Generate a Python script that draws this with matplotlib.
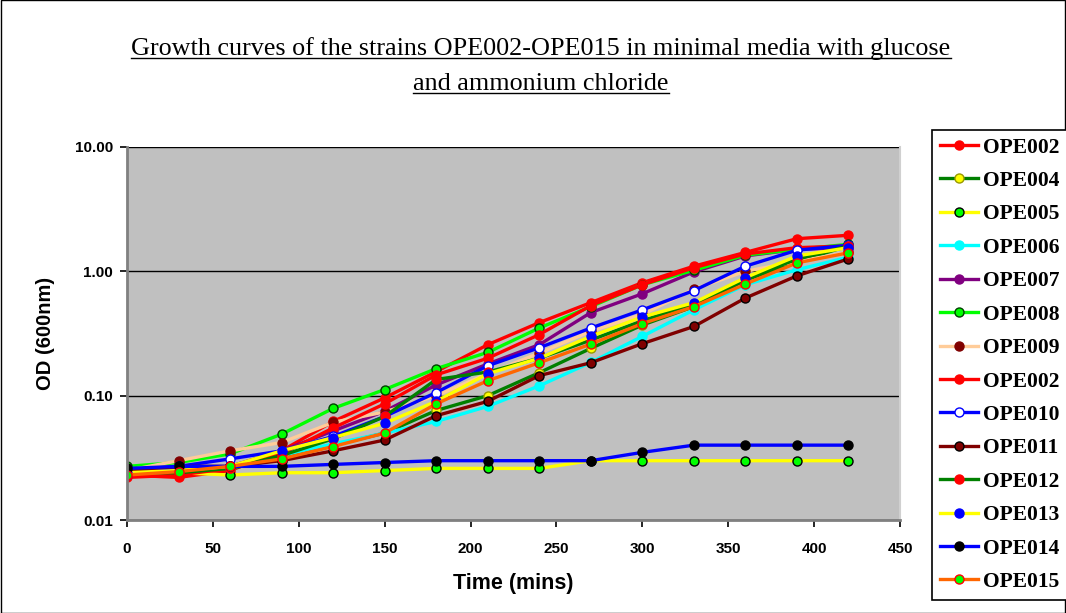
import matplotlib
matplotlib.use("Agg")
import matplotlib.pyplot as plt
from matplotlib.lines import Line2D
from matplotlib.patches import Rectangle
from matplotlib.ticker import FixedLocator, NullLocator, FixedFormatter

# ---------------- data ----------------
time_mins = [0, 30, 60, 90, 120, 150, 180, 210, 240, 270, 300, 330, 360, 390, 420]

labels = ["OPE002", "OPE004", "OPE005", "OPE006", "OPE007", "OPE008", "OPE009",
          "OPE002", "OPE010", "OPE011", "OPE012", "OPE013", "OPE014", "OPE015"]

ope002_a = [0.023, 0.022, 0.025, 0.036, 0.062, 0.096, 0.156, 0.257, 0.387, 0.56, 0.81, 1.10, 1.42, 1.83, 1.95]
ope004 = [0.025, 0.026, 0.026, 0.031, 0.040, 0.050, 0.076, 0.100, 0.153, 0.240, 0.370, 0.520, 0.85, 1.20, 1.60]
ope005 = [0.024, 0.024, 0.023, 0.024, 0.024, 0.025, 0.026, 0.026, 0.026, 0.030, 0.030, 0.030, 0.030, 0.030, 0.030]
ope006 = [0.024, 0.025, 0.026, 0.033, 0.041, 0.050, 0.062, 0.082, 0.120, 0.185, 0.300, 0.490, 0.78, 1.03, 1.30]
ope007 = [0.024, 0.025, 0.027, 0.036, 0.052, 0.075, 0.122, 0.180, 0.257, 0.466, 0.660, 0.990, 1.33, 1.50, 1.55]
ope008 = [0.027, 0.029, 0.034, 0.049, 0.079, 0.112, 0.165, 0.223, 0.350, 0.520, 0.780, 1.020, 1.35, 1.50, 1.65]
ope009 = [0.025, 0.030, 0.036, 0.042, 0.061, 0.074, 0.100, 0.150, 0.220, 0.330, 0.450, 0.720, 1.00, 1.20, 1.42]
ope002_b = [0.022, 0.023, 0.026, 0.034, 0.055, 0.086, 0.147, 0.200, 0.310, 0.530, 0.780, 1.070, 1.38, 1.55, 1.60]
ope010 = [0.023, 0.027, 0.031, 0.036, 0.047, 0.068, 0.106, 0.174, 0.243, 0.350, 0.490, 0.700, 1.10, 1.48, 1.62]
ope011 = [0.025, 0.027, 0.027, 0.030, 0.036, 0.044, 0.069, 0.090, 0.145, 0.184, 0.262, 0.360, 0.61, 0.92, 1.26]
ope012 = [0.024, 0.024, 0.026, 0.033, 0.045, 0.068, 0.135, 0.155, 0.200, 0.280, 0.400, 0.550, 0.88, 1.25, 1.60]
ope013 = [0.024, 0.025, 0.027, 0.036, 0.046, 0.060, 0.090, 0.150, 0.200, 0.300, 0.430, 0.560, 0.89, 1.33, 1.55]
ope014 = [0.026, 0.027, 0.027, 0.027, 0.028, 0.029, 0.030, 0.030, 0.030, 0.030, 0.035, 0.040, 0.040, 0.040, 0.040]
ope015 = [0.023, 0.0245, 0.027, 0.031, 0.039, 0.050, 0.086, 0.132, 0.184, 0.260, 0.380, 0.520, 0.79, 1.17, 1.41]

series = [ope002_a, ope004, ope005, ope006, ope007, ope008, ope009,
          ope002_b, ope010, ope011, ope012, ope013, ope014, ope015]

y_ticks = [0.01, 0.1, 1, 10]
y_tick_labels = ["0.01", "0.10", "1.00", "10.00"]
x_ticks = [0, 50, 100, 150, 200, 250, 300, 350, 400, 450]

# ---------------- styles ----------------
# (line colour, marker face, marker edge)
styles = [
    ("#FF0000", "#FF0000", "#FF0000"),
    ("#008000", "#FFFF00", "#999900"),
    ("#FFFF00", "#00FF00", "#000000"),
    ("#00FFFF", "#00FFFF", "#00FFFF"),
    ("#800080", "#800080", "#800080"),
    ("#00FF00", "#00FF00", "#004000"),
    ("#FFCC99", "#800000", "#800000"),
    ("#FF0000", "#FF0000", "#FF0000"),
    ("#0000FF", "#FFFFFF", "#0000FF"),
    ("#800000", "#800000", "#000000"),
    ("#008000", "#FF0000", "#FF0000"),
    ("#FFFF00", "#0000FF", "#0000FF"),
    ("#0000FF", "#000000", "#000000"),
    ("#FF6600", "#00FF00", "#FF0000"),
]

W, H = 1066, 613
fig = plt.figure(figsize=(W / 100, H / 100), dpi=100)
fig.patch.set_facecolor("white")

left, right, top, bottom = 127, 900, 147, 520
ax = fig.add_axes([left / W, 1 - bottom / H, (right - left) / W, (bottom - top) / H])
ax.set_facecolor("#C0C0C0")

handles = []
for vals, lab, (lc, mfc, mec) in zip(series, labels, styles):
    ln, = ax.plot(time_mins, vals, color=lc, lw=2.4, marker="o", ms=6.5,
                  mfc=mfc, mec=mec, mew=1.0, label=lab, solid_joinstyle="round")
    handles.append(ln)

ax.set_yscale("log")
ax.set_ylim(0.01, 10)
ax.set_xlim(0, 450)
ax.yaxis.set_major_locator(FixedLocator(y_ticks))
ax.yaxis.set_major_formatter(FixedFormatter(y_tick_labels))
ax.yaxis.set_minor_locator(NullLocator())
ax.set_xticks(x_ticks)
ax.set_xticklabels([str(v) for v in x_ticks])

ax.grid(True, axis="y", which="major", color="black", lw=1.0)
ax.set_axisbelow(True)

for side in ["left", "bottom"]:
    ax.spines[side].set_color("#808080")
    ax.spines[side].set_linewidth(2.0)
ax.spines["top"].set_visible(False)
ax.spines["right"].set_color("#D0D0D0")
ax.spines["right"].set_linewidth(1.5)

ax.tick_params(axis="both", direction="out", length=5, width=1.2, color="black",
               labelsize=11)
ax.tick_params(axis="x", pad=11)
ax.tick_params(axis="y", pad=5)
for lbl in ax.get_xticklabels() + ax.get_yticklabels():
    lbl.set_fontweight("bold")
    lbl.set_family("Liberation Sans")

ax.set_xlabel("Time (mins)", fontsize=15.5, fontweight="bold", family="Liberation Sans", labelpad=12)
ax.set_ylabel("OD (600nm)", fontsize=14.5, fontweight="bold", family="Liberation Sans", labelpad=14)

# title (two underlined lines)
title_lines = ["Growth curves of the strains OPE002-OPE015 in minimal media with glucose",
               "and ammonium chloride"]
baselines = [55, 90]
title_texts = []
for line, yb in zip(title_lines, baselines):
    t = fig.text(541 / W, 1 - yb / H, line, ha="center", va="baseline",
                 fontsize=18.8, family="Liberation Serif")
    title_texts.append((t, yb))

leg = fig.legend(handles=handles, loc="upper left", bbox_to_anchor=(932 / W, 1 - 130 / H),
                 frameon=True, fancybox=False, shadow=False, framealpha=1,
                 edgecolor="black", facecolor="white",
                 prop={"family": "Liberation Serif", "weight": "bold", "size": 15.5},
                 handlelength=1.8, handletextpad=0.2, labelspacing=0.62,
                 borderpad=0.35, borderaxespad=0, markerscale=1.0)
leg.get_frame().set_linewidth(1.2)

fig.canvas.draw()
renderer = fig.canvas.get_renderer()
for t, yb in title_texts:
    bb = t.get_window_extent(renderer)
    yline = 1 - (yb + 3) / H
    fig.add_artist(Line2D([bb.x0 / W, bb.x1 / W], [yline, yline],
                          transform=fig.transFigure, color="black", lw=1.0))

fig.add_artist(Rectangle((0.0005, 0.0008), 0.999, 0.9985, transform=fig.transFigure,
                         fill=False, edgecolor="black", lw=1.0))

fig.savefig("out.png", dpi=100, facecolor="white")
